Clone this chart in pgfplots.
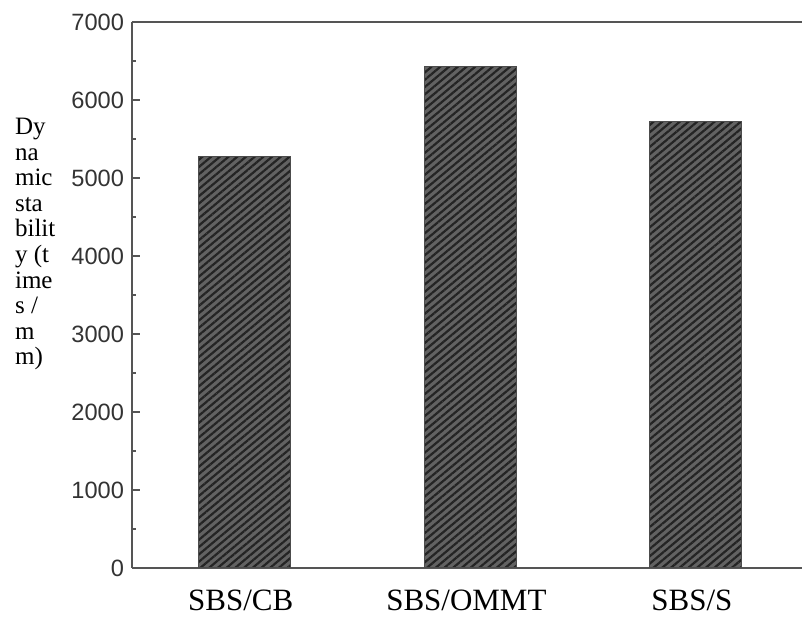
\documentclass[border=0pt]{standalone}
\usepackage{fontspec}
\setmainfont{Liberation Serif}
\newfontfamily\ticksans{Liberation Sans}
\usepackage{pgfplots}
\pgfplotsset{compat=1.18}
\usetikzlibrary{patterns.meta}
\definecolor{axgray}{RGB}{85,85,85}
\definecolor{barfill}{RGB}{98,98,98}
\definecolor{barline}{RGB}{36,36,36}
\begin{document}
\begin{tikzpicture}
\useasboundingbox (-66pt,-25.5pt) rectangle (335pt,284pt);
\begin{axis}[
  scale only axis,
  width=335pt, height=273pt,
  xmin=-0.5, xmax=2.47,
  ymin=0, ymax=7000,
  axis x line=box,
  axis y line=left,
  y axis line style={-},
  axis line style={axgray, line width=0.8pt},
  xtick={0,1,2},
  xticklabels={SBS/CB, SBS/OMMT, SBS/S},
  x tick style={draw=none},
  xticklabel style={font=\fontsize{15.5}{17}\selectfont, yshift=-3.5pt, xshift=-2pt},
  ytick={0,1000,...,7000},
  minor y tick num=1,
  y tick style={axgray, line width=0.8pt},
  tickpos=left,
  tick align=inside,
  major tick length=4pt,
  minor tick length=2.2pt,
  yticklabel style={font=\ticksans\fontsize{11.8}{13}\selectfont, text=black!80, xshift=-0.5pt},
  /pgf/number format/assume math mode=true,
  /pgf/number format/set thousands separator={},
  ylabel={Dy\\na\\mic\\sta\\bilit\\y (t\\ime\\s /\\m\\m)},
  ylabel style={rotate=-90, at={(rel axis cs:0,0.593)}, anchor=west, xshift=-62pt, align=left, font=\fontsize{12.5}{12.8}\selectfont},
  ybar,
  bar width=46pt,
]
\addplot[draw=black!70, line width=0.5pt, fill=barfill,
  postaction={pattern={Lines[angle=40, distance=2.8pt, line width=1.1pt]}, pattern color=barline}]
  coordinates {(0,5270) (1,6430) (2,5720)};
\end{axis}
\end{tikzpicture}
\end{document}
